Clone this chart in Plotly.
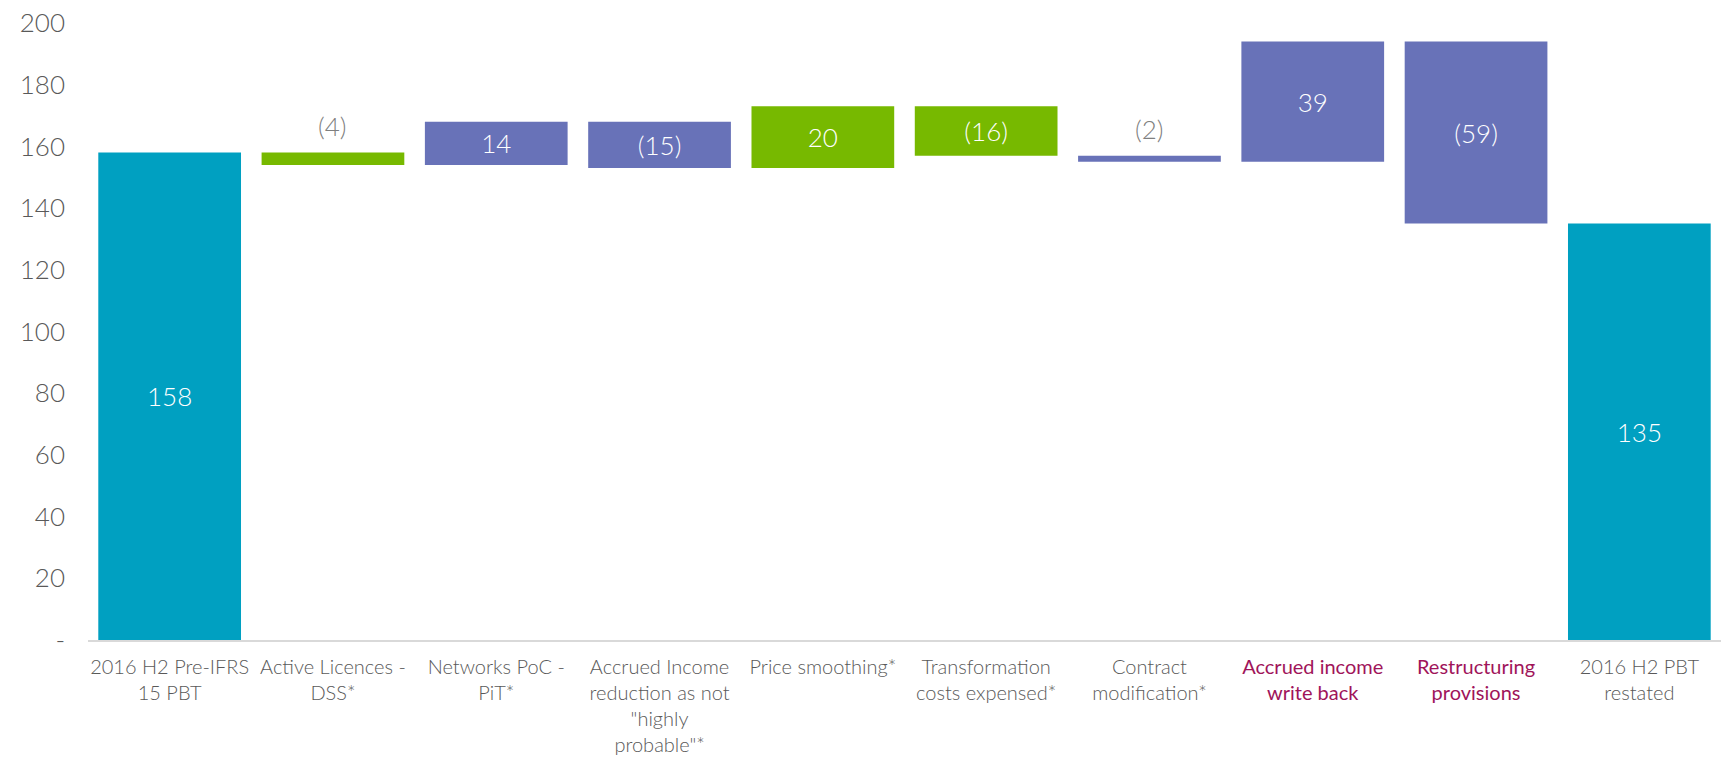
import plotly.graph_objects as go

categories = [
    "2016 H2 Pre-IFRS<br>15 PBT",
    "Active Licences -<br>DSS*",
    "Networks PoC -<br>PiT*",
    "Accrued Income<br>reduction as not<br>\"highly<br>probable\"*",
    "Price smoothing*",
    "Transformation<br>costs expensed*",
    "Contract<br>modification*",
    "Accrued income<br>write back",
    "Restructuring<br>provisions",
    "2016 H2 PBT<br>restated",
]
values = [158, -4, 14, -15, 20, -16, -2, 39, -59, 135]
kinds = ["total", "delta", "delta", "delta", "delta", "delta", "delta", "delta", "delta", "total"]
groups = ["total", "green", "purple", "purple", "green", "green", "purple", "purple", "purple", "total"]
highlight = [False, False, False, False, False, False, False, True, True, False]
y_ticks = [0, 20, 40, 60, 80, 100, 120, 140, 160, 180, 200]
y_ticktext = ["-", "20", "40", "60", "80", "100", "120", "140", "160", "180", "200"]

palette = {"total": "#00A0C1", "green": "#77B900", "purple": "#6872B8"}
FONT = "Lato"

# compute floating bars
bases, heights, labels = [], [], []
running = 0
for v, k in zip(values, kinds):
    if k == "total":
        bases.append(0)
        heights.append(v)
        running = v
    else:
        start, end = running, running + v
        bases.append(min(start, end))
        heights.append(abs(v))
        running = end
    labels.append(f"({abs(v)})" if v < 0 else str(v))

inside = [h >= 8 for h in heights]

xs = list(range(len(categories)))
fig = go.Figure()
fig.add_trace(go.Bar(
    x=xs,
    y=heights,
    base=bases,
    marker=dict(color=[palette[g] for g in groups], line=dict(width=0)),
    text=[t if i else "" for t, i in zip(labels, inside)],
    textposition="inside",
    insidetextanchor="middle",
    textangle=0,
    textfont=dict(family=FONT, size=26, color="#ffffff", weight=300),
    constraintext="none",
    cliponaxis=False,
    hoverinfo="skip",
))

# labels above thin bars
for x, b, h, t, i in zip(xs, bases, heights, labels, inside):
    if not i:
        fig.add_annotation(
            x=x, y=b + h, text=t, showarrow=False,
            xanchor="center", yanchor="bottom", yshift=9,
            font=dict(family=FONT, size=26, color="#7f7f7f", weight=300),
        )

ticktext = []
for c, h in zip(categories, highlight):
    if h:
        ticktext.append(f"<span style='color:#A0145A;font-weight:400'>{c}</span>")
    else:
        ticktext.append(c)

fig.update_layout(
    width=1727, height=770,
    margin=dict(l=88, r=6, t=17, b=130),
    paper_bgcolor="white", plot_bgcolor="white",
    bargap=0.126,
    showlegend=False,
    font=dict(family=FONT, color="#595959", weight=300),
)
fig.update_xaxes(
    tickmode="array", tickvals=xs, ticktext=ticktext,
    range=[-0.5, len(categories) - 0.5],
    showgrid=False, zeroline=False,
    showline=True, linecolor="#D9D9D9", linewidth=2,
    ticks="", ticklabelstandoff=8,
    tickfont=dict(family=FONT, size=20, color="#595959", weight=300),
)
fig.update_yaxes(
    range=[0, 200],
    tickmode="array", tickvals=y_ticks, ticktext=y_ticktext,
    showgrid=False, zeroline=False, showline=False,
    ticks="", ticklabelstandoff=22,
    tickfont=dict(family=FONT, size=26, color="#595959", weight=300),
)

fig.write_html("out.html")
